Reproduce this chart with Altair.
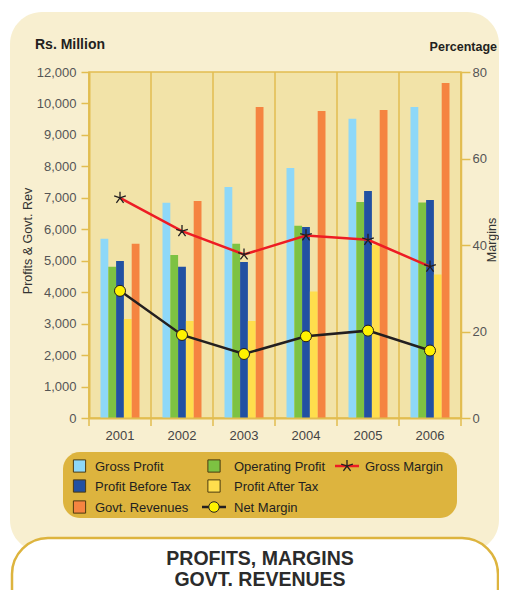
import altair as alt
import pandas as pd

# ---------------- data ----------------
years = ["2001", "2002", "2003", "2004", "2005", "2006"]
gross_profit = [5700, 6840, 7340, 7950, 9510, 9890]
operating_profit = [4810, 5180, 5540, 6110, 6870, 6850]
profit_before_tax = [4990, 4810, 4960, 6070, 7220, 6930]
profit_after_tax = [3150, 3080, 3080, 4020, 5500, 4560]
govt_revenues = [5540, 6900, 9890, 9760, 9790, 10650]
gross_margin = [50.9, 43.2, 37.8, 42.2, 41.2, 35.0]
net_margin = [29.4, 19.2, 14.8, 18.9, 20.2, 15.6]

bar_series = ["Gross Profit", "Operating Profit", "Profit Before Tax",
              "Profit After Tax", "Govt. Revenues"]
bar_values = [gross_profit, operating_profit, profit_before_tax,
              profit_after_tax, govt_revenues]
bar_colors = ["#8ED8F8", "#7DC242", "#2251A2", "#FFDE4D", "#F58441"]

left_ticks = [0, 1000, 2000, 3000, 4000, 5000, 6000, 7000, 8000, 9000, 10000, 11000]
left_tick_labels = ["0", "1,000", "2,000", "3,000", "4,000", "5,000", "6,000",
                    "7,000", "8,000", "9,000", "10,000", "12,000"]
right_ticks = [0, 20, 40, 60, 80]

# ---------------- styling ----------------
W, H = 372, 346
FONT = "Liberation Sans"
GOLD = "#E2BD50"
CARD = "#F8EFD0"
PLOT_BG = "#F2E3A8"
LEG_BG = "#DDB43E"
RED = "#ED1C24"
BLACK = "#231F20"
YELLOW = "#FFF200"
LABEL = "#555555"

bars_df = pd.DataFrame([
    {"year": y, "series": s, "value": v[i]}
    for s, v in zip(bar_series, bar_values)
    for i, y in enumerate(years)
])
line_df = pd.DataFrame({"year": years, "gm": gross_margin, "nm": net_margin})
grid_df = pd.DataFrame({"year": years})
one = pd.DataFrame({"a": [0]})

label_expr = " : ".join(
    [f"datum.value == {t} ? '{l}'" for t, l in zip(left_ticks, left_tick_labels)]
) + " : ''"

x_scale = alt.Scale(domain=years, paddingInner=0, paddingOuter=0)
x_axis = alt.Axis(title=None, ticks=False, labelAngle=0, grid=False,
                  domainColor=GOLD, domainWidth=2, labelFont=FONT,
                  labelFontSize=13, labelColor="#444444", labelPadding=11,
                  zindex=1)


def xenc(**kw):
    return alt.X("year:N", sort=years, scale=x_scale, axis=x_axis, **kw)


pct_scale = alt.Scale(domain=[0, 80], nice=False)
right_axis = alt.Axis(orient="right", title=None, values=right_ticks, grid=False,
                      domainColor=GOLD, domainWidth=1.5, tickColor=GOLD,
                      tickWidth=1.5, tickSize=9, labelPadding=2, labelFont=FONT,
                      labelFontSize=13, labelColor=LABEL, zindex=1)
left_axis = alt.Axis(orient="left", title=None, values=left_ticks,
                     labelExpr=label_expr, grid=False, domainColor=GOLD,
                     domainWidth=2, tickColor=GOLD, tickWidth=1.5, tickSize=8,
                     labelPadding=5, labelFont=FONT, labelFontSize=13,
                     labelColor=LABEL, zindex=1)


def box(x, x2, y, y2, **kw):
    return alt.Chart(one).mark_rect(**kw).encode(
        x=alt.value(x), x2=alt.value(x2), y=alt.value(y), y2=alt.value(y2))


def txt(s, x, y, **kw):
    base = dict(font=FONT, color=BLACK, fontSize=13, align="left", baseline="middle")
    base.update(kw)
    return alt.Chart(one).mark_text(**base).encode(
        x=alt.value(x), y=alt.value(y), text=alt.value(s))


layers = []
# background card, title box, legend box, plot area
layers.append(box(-79, 410, -60, 480, fill=CARD, cornerRadius=32))
layers.append(box(-77, 409, 466, 560, fill="white", stroke=LEG_BG,
                  strokeWidth=2.5, cornerRadius=36))
layers.append(box(-26, 368, 380, 446, fill=LEG_BG, cornerRadius=17))
layers.append(box(0, W, 0, H, fill=PLOT_BG, stroke=GOLD, strokeWidth=1.5))

# vertical grid lines / ticks at year boundaries
layers.append(alt.Chart(grid_df).mark_rule(color=GOLD, strokeWidth=1.5).encode(
    x=xenc(bandPosition=0), y=alt.value(0), y2=alt.value(H + 8)))
layers.append(alt.Chart(one).mark_rule(color=GOLD, strokeWidth=1.5).encode(
    x=alt.value(W), y=alt.value(0), y2=alt.value(H + 8)))

# bars (the group of five occupies the middle 39 px of each 62 px year band)
layers.append(alt.Chart(bars_df).mark_bar().encode(
    x=xenc(),
    xOffset=alt.XOffset("series:N", sort=bar_series,
                        scale=alt.Scale(domain=bar_series, range=[11.5, 50.5],
                                        paddingInner=0, paddingOuter=0)),
    y=alt.Y("value:Q", scale=alt.Scale(domain=[0, 11000], nice=False),
            axis=left_axis),
    color=alt.Color("series:N", scale=alt.Scale(domain=bar_series, range=bar_colors),
                    legend=None),
))

STAR = ("M0,0L0,-1M0,0L0.951,-0.309M0,0L0.588,0.809M0,0L-0.588,0.809"
        "M0,0L-0.951,-0.309")

# margin lines
layers.append(alt.Chart(line_df).mark_line(color=RED, strokeWidth=2.5).encode(
    x=xenc(), y=alt.Y("gm:Q", scale=pct_scale, axis=right_axis)))
layers.append(alt.Chart(line_df).mark_point(
    shape=STAR, size=150, filled=False, stroke=BLACK, strokeWidth=1.3,
    opacity=1).encode(x=xenc(), y=alt.Y("gm:Q", scale=pct_scale, axis=None)))
layers.append(alt.Chart(line_df).mark_line(color=BLACK, strokeWidth=2.5).encode(
    x=xenc(), y=alt.Y("nm:Q", scale=pct_scale, axis=None)))
layers.append(alt.Chart(line_df).mark_point(
    shape="circle", size=121, filled=True, fill=YELLOW, stroke=BLACK,
    strokeWidth=1, opacity=1).encode(
    x=xenc(), y=alt.Y("nm:Q", scale=pct_scale, axis=None)))

# axis titles
layers.append(txt("Rs. Million", -54, -27.5, fontWeight="bold", fontSize=14))
layers.append(txt("Percentage", 408, -25.5, fontWeight="bold", fontSize=12.5,
                  align="right"))
layers.append(txt("Profits & Govt. Rev", -61, 169, fontSize=12.5, angle=270,
                  align="center", color="#333333"))
layers.append(txt("Margins", 403, 168, fontSize=12.5, angle=270,
                  align="center", color="#333333"))

# legend (column-major: 3 rows)
col_sym = [-9.5, 125, 258]
col_txt = [6, 145, 276]
row_y = [394, 414, 435]
legend_order = ["Gross Profit", "Profit Before Tax", "Govt. Revenues",
                "Operating Profit", "Profit After Tax", "Net Margin", "Gross Margin"]
for k, name in enumerate(legend_order):
    c, r = k // 3, k % 3
    sx, tx, yy = col_sym[c], col_txt[c], row_y[r]
    if name in bar_series:
        colr = bar_colors[bar_series.index(name)]
        layers.append(alt.Chart(one).mark_point(
            shape="square", size=150, filled=True, fill=colr, stroke="#4a3a10",
            strokeWidth=1, opacity=1).encode(x=alt.value(sx), y=alt.value(yy)))
    elif name == "Net Margin":
        layers.append(alt.Chart(one).mark_rule(color=BLACK, strokeWidth=2.5).encode(
            x=alt.value(sx - 12), x2=alt.value(sx + 12), y=alt.value(yy)))
        layers.append(alt.Chart(one).mark_point(
            shape="circle", size=110, filled=True, fill=YELLOW, stroke=BLACK,
            strokeWidth=1, opacity=1).encode(x=alt.value(sx), y=alt.value(yy)))
    else:
        layers.append(alt.Chart(one).mark_rule(color=RED, strokeWidth=2.5).encode(
            x=alt.value(sx - 12), x2=alt.value(sx + 12), y=alt.value(yy)))
        layers.append(alt.Chart(one).mark_point(
            shape=STAR, size=150, filled=False, stroke=BLACK, strokeWidth=1.3,
            opacity=1).encode(x=alt.value(sx), y=alt.value(yy)))
    layers.append(txt(name, tx, yy + 1, fontSize=13))

# bottom caption (two separate lines)
layers.append(txt("PROFITS, MARGINS", 171, 487, fontSize=19.5,
                  fontWeight="bold", align="center", color="#2B2B2B"))
layers.append(txt("GOVT. REVENUES", 171, 508, fontSize=19.5,
                  fontWeight="bold", align="center", color="#2B2B2B"))

chart = alt.layer(*layers).resolve_scale(y="independent").properties(
    width=W, height=H,
    autosize=alt.AutoSizeParams(type="none"),
    padding={"left": 81, "top": 64, "right": 38, "bottom": 172},
).configure_view(strokeWidth=0)

chart.save("out.html", embed_options={"renderer": "svg", "actions": False})
